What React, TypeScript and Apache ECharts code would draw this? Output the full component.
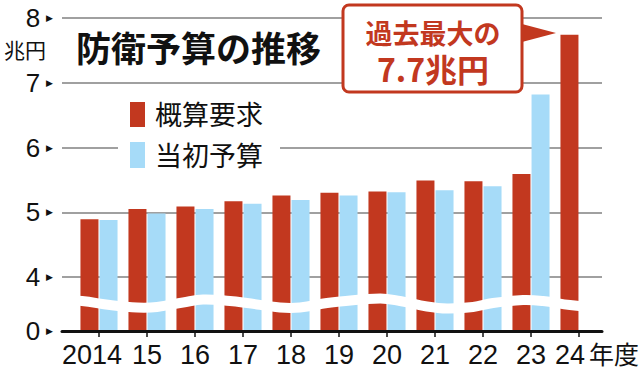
import React, { useEffect, useRef } from "react";
import * as echarts from "echarts";

const years = ["2014", "15", "16", "17", "18", "19", "20", "21", "22", "23", "24"];
const requestValues = [4.89, 5.05, 5.09, 5.17, 5.26, 5.3, 5.32, 5.49, 5.48, 5.59, 7.74];
const budgetValues: (number | null)[] = [4.88, 4.98, 5.05, 5.13, 5.19, 5.26, 5.31, 5.34, 5.4, 6.82, null];
const yTickValues = [0, 4, 5, 6, 7, 8];
const seriesNames = ["概算要求", "当初予算"];
const calloutLines = ["過去最大の", "7.7兆円"];

const RED = "#c2381f";
const BLUE = "#a6dbf8";
const BREAK_AT = 4;
const GAP_UNITS = 54 / 64.75;

const toDisplay = (v: number) => (v >= BREAK_AT ? v - BREAK_AT + GAP_UNITS : (v / BREAK_AT) * GAP_UNITS);
const fromDisplay = (d: number) => {
  let best = yTickValues[0];
  let bd = Infinity;
  for (const t of yTickValues) {
    const dd = Math.abs(toDisplay(t) - d);
    if (dd < bd) { bd = dd; best = t; }
  }
  return best;
};

const CJK = "'Noto Sans CJK JP', 'Noto Sans', sans-serif";

export default function App() {
  const ref = useRef<HTMLDivElement>(null);
  useEffect(() => {
    if (!ref.current) return;
    const chart = echarts.init(ref.current, null, { renderer: "svg" });
    const yMax = toDisplay(8);
    const tickDisp = yTickValues.map(toDisplay);
    const wave = [
      [62, 300], [82, 301], [110, 305], [137, 307.5], [157, 307], [183, 302.5], [203, 299.5],
      [230, 301], [247, 303], [280, 307.5], [300, 307.5], [327, 303], [340, 301.5], [380, 298.5],
      [400, 301], [427, 306.5], [447, 308.5], [473, 307], [493, 303], [523, 300], [543, 301],
      [570, 305], [602, 308],
    ];
    const lastIdx = years.length - 1;
    chart.setOption({
      animation: false,
      backgroundColor: "#fff",
      grid: [
        { left: 62, right: 38, top: 18, bottom: 47 },
        { left: 75, right: 37, top: 18, bottom: 47 },
      ],
      xAxis: [
        {
          gridIndex: 0, type: "category", data: years, z: 10,
          axisLine: { show: true, lineStyle: { color: "#111", width: 3 } },
          axisTick: { show: false }, axisLabel: { show: false }, splitLine: { show: false },
        },
        {
          gridIndex: 1, type: "category", data: years,
          axisLine: { show: false },
          axisTick: { show: true, alignWithLabel: true, length: 6, lineStyle: { color: "#111", width: 1.5 } },
          axisLabel: {
            interval: 0, margin: 10, color: "#111", fontSize: 27,
            fontFamily: "'Liberation Sans', sans-serif",
            formatter: (v: string, i: number) => (i === 0 ? `{first|${v}}` : i === lastIdx ? `{last|${v}}` : v),
            rich: {
              first: { fontSize: 27, color: "#111", fontFamily: "'Liberation Sans', sans-serif", padding: [0, 14, 0, 0] },
              last: { fontSize: 27, color: "#111", fontFamily: "'Liberation Sans', sans-serif", padding: [0, 18, 0, 0] },
            },
          },
        },
      ],
      yAxis: [
        {
          gridIndex: 0, type: "value", min: 0, max: yMax,
          axisLine: { show: false },
          axisTick: { show: false, customValues: tickDisp },
          splitLine: { show: true, lineStyle: { color: "#808080", width: 1.5 } },
          axisLabel: {
            customValues: tickDisp, margin: 9,
            formatter: (v: number) => `{n|${fromDisplay(v)}}{t|▶}`,
            rich: {
              n: { fontSize: 26, color: "#111", fontFamily: "'Liberation Sans', sans-serif" },
              t: { fontSize: 9, color: "#111", fontFamily: "'DejaVu Sans'", padding: [0, 0, 0, 6] },
            },
          },
        },
        { gridIndex: 1, type: "value", min: 0, max: yMax, show: false, splitLine: { show: false } },
      ],
      series: [
        {
          name: seriesNames[0], type: "bar", xAxisIndex: 1, yAxisIndex: 1,
          data: requestValues.map(toDisplay), barWidth: 18, barGap: "6%",
          itemStyle: { color: RED },
        },
        {
          name: seriesNames[1], type: "bar", xAxisIndex: 1, yAxisIndex: 1,
          data: budgetValues.map((v) => (v == null ? "-" : toDisplay(v))), barWidth: 18,
          itemStyle: { color: BLUE },
        },
      ],
      graphic: [
        { type: "polyline", z: 100, shape: { points: wave, smooth: 0.4 }, style: { stroke: "#fff", lineWidth: 10, fill: null } },
        { type: "text", z: 100, left: 4, top: 38, style: { text: "兆円", fontSize: 21, fill: "#111", fontFamily: CJK } },
        { type: "text", z: 100, left: 76, top: 29, style: { text: "防衛予算の推移", fontSize: 35, fontWeight: "bold", fill: "#111", fontFamily: CJK } },
        { type: "rect", z: 90, shape: { x: 118, y: 96, width: 162, height: 78 }, style: { fill: "#fff" } },
        { type: "rect", z: 100, shape: { x: 130, y: 102, width: 15, height: 25 }, style: { fill: RED } },
        { type: "rect", z: 100, shape: { x: 130, y: 142, width: 15, height: 26 }, style: { fill: BLUE } },
        { type: "text", z: 100, left: 155, top: 100, style: { text: seriesNames[0], fontSize: 27, fill: "#111", fontFamily: CJK } },
        { type: "text", z: 100, left: 155, top: 141, style: { text: seriesNames[1], fontSize: 27, fill: "#111", fontFamily: CJK } },
        { type: "rect", z: 100, shape: { x: 343, y: 5, width: 179, height: 87, r: 6 }, style: { fill: "#fff", stroke: RED, lineWidth: 3 } },
        { type: "polygon", z: 101, shape: { points: [[522, 24], [556, 33], [522, 42]] }, style: { fill: RED } },
        {
          type: "text", z: 102, x: 433, y: 15,
          style: {
            text: `{a|${calloutLines[0]}}\n{b|${calloutLines[1]}}`,
            align: "center", verticalAlign: "top", fill: RED, fontFamily: CJK,
            rich: {
              a: { fontSize: 27, fontWeight: "bold", fill: RED, fontFamily: CJK, lineHeight: 34, align: "center" },
              b: { fontSize: 32, fontWeight: "bold", fill: RED, fontFamily: CJK, lineHeight: 38, align: "center" },
            },
          },
        },
        { type: "text", z: 100, left: 589, top: 340, style: { text: "年度", fontSize: 25, fill: "#111", fontFamily: CJK } },
      ],
    });
    return () => chart.dispose();
  }, []);
  return <div ref={ref} style={{ position: "fixed", left: 0, top: 0, width: 640, height: 378 }} />;
}
